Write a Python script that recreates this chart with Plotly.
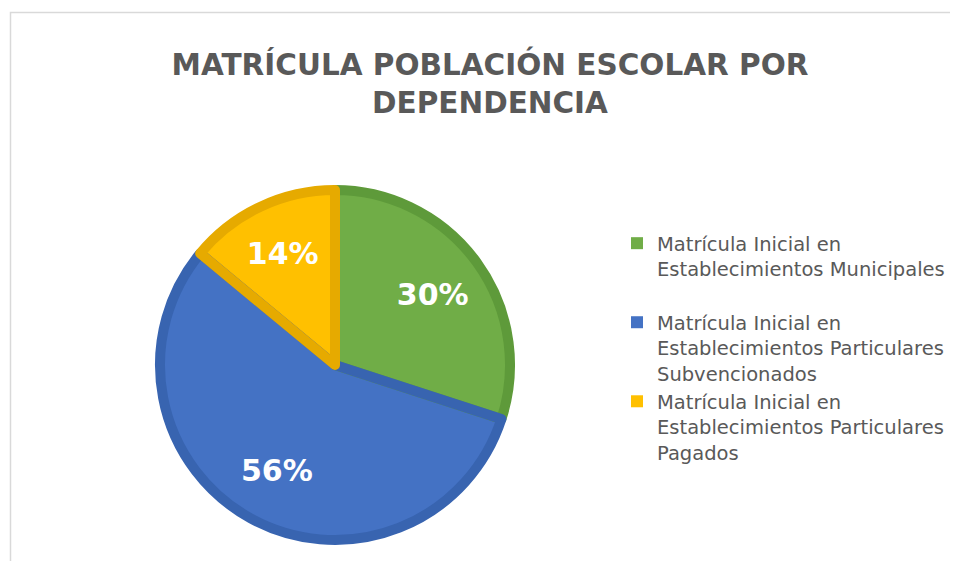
import plotly.graph_objects as go

categories = [
    "Matrícula Inicial en<br>Establecimientos Municipales<br> ",
    "Matrícula Inicial en<br>Establecimientos Particulares<br>Subvencionados",
    "Matrícula Inicial en<br>Establecimientos Particulares<br>Pagados",
]
values = [30, 56, 14]
fill_colors = ["#70AD47", "#4472C4", "#FFC000"]
line_colors = ["#5E9A3A", "#3864B0", "#E6AA00"]

# the page body has an 8px margin; figure sized so it fills the window exactly
OFF = 8
W, H = 958 - OFF, 561 - OFF
cx, cy, r = 335 - OFF, 365 - OFF, 175
dom = dict(x=[(cx - r) / W, (cx + r) / W], y=[1 - (cy + r) / H, 1 - (cy - r) / H])

common = dict(labels=categories, values=values, sort=False,
              direction="clockwise", rotation=0, domain=dom)

fig = go.Figure()
# filled slices (also provide the legend entries)
fig.add_trace(go.Pie(
    **common,
    marker=dict(colors=fill_colors, line=dict(width=0)),
    textinfo="none",
    hoverinfo="percent",
))
# darker slice outlines
fig.add_trace(go.Pie(
    **common,
    marker=dict(colors=["rgba(0,0,0,0)"] * 3, line=dict(color=line_colors, width=10)),
    textinfo="none",
    showlegend=False,
    hoverinfo="skip",
))
# transparent ring that carries the percentage labels further out from the centre
fig.add_trace(go.Pie(
    **common,
    hole=0.38,
    marker=dict(colors=["rgba(0,0,0,0)"] * 3, line=dict(width=0)),
    textinfo="percent",
    textposition="inside",
    insidetextorientation="horizontal",
    textfont=dict(family="DejaVu Sans", size=30, color="white", weight="bold"),
    showlegend=False,
    hoverinfo="skip",
))

fig.update_layout(
    width=W, height=H,
    margin=dict(l=0, r=0, t=0, b=0),
    paper_bgcolor="white",
    plot_bgcolor="white",
    title=dict(
        text="<b>MATRÍCULA POBLACIÓN ESCOLAR POR<br>DEPENDENCIA</b>",
        x=(490 - OFF) / W, xanchor="center",
        y=1 - (75 - OFF) / H, yanchor="middle", yref="container",
        font=dict(family="DejaVu Sans", size=29.5, color="#595959"),
    ),
    legend=dict(
        x=(617 - OFF) / W, xanchor="left",
        y=1 - (348 - OFF) / H, yanchor="middle",
        valign="top",
        font=dict(family="DejaVu Sans", size=19.5, color="#595959"),
        bgcolor="rgba(0,0,0,0)",
    ),
    shapes=[dict(
        type="rect", xref="paper", yref="paper",
        x0=(10.5 - OFF) / W, x1=1.02, y0=-0.02, y1=1 - (12.5 - OFF) / H,
        line=dict(color="#D9D9D9", width=1.5),
        fillcolor="rgba(0,0,0,0)", layer="below",
    )],
)

fig.write_html("out.html")
